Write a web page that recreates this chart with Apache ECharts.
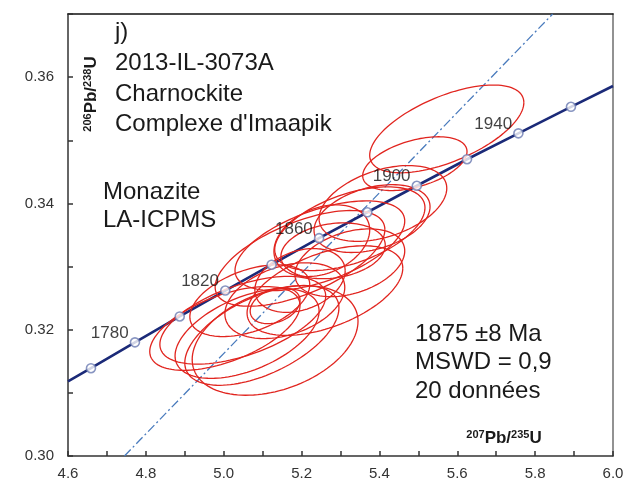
<!DOCTYPE html>
<html><head><meta charset="utf-8">
<script src="https://cdn.jsdelivr.net/npm/echarts@6/dist/echarts.min.js"></script>
<style>html,body{margin:0;padding:0;background:#fff}#c{width:637px;height:486px}</style>
</head><body><div id="c"></div>
<script>
const xTickLabels = ['4.6','4.8','5.0','5.2','5.4','5.6','5.8','6.0'];
const yTickLabels = ['0.30','0.32','0.34','0.36'];
// Concordia markers (20 Ma steps)
const concAges = [1760,1780,1800,1820,1840,1860,1880,1900,1920,1940,1960];
const concX = [4.659,4.772,4.887,5.004,5.123,5.245,5.369,5.496,5.625,5.757,5.892];
const concY = [0.3139,0.3180,0.3221,0.3262,0.3303,0.3345,0.3386,0.3428,0.3470,0.3511,0.3553];
const concLabelAges = [1780,1820,1860,1900,1940];
// concordia curve ends at plot edges
const concStart = [4.60, 0.3118];
const concEnd = [6.00, 0.3586];
// regression (dash-dot) line
const discX = [4.745, 5.845];
const discY = [0.30, 0.37];
// error ellipses: centre, half-extent x, half-extent y, correlation
const ellCx = [5.573,5.491,5.409,5.381,5.324,5.281,5.252,5.196,5.247,5.260,5.132,5.132,5.003,5.049,5.060,5.098,5.157,5.067,5.324,5.196];
const ellCy = [0.3518,0.3463,0.3400,0.3376,0.3360,0.3325,0.3341,0.3313,0.3333,0.3262,0.3238,0.3183,0.3202,0.3215,0.3194,0.3191,0.3246,0.3246,0.3306,0.3278];
const ellSx = [0.198,0.134,0.164,0.149,0.193,0.134,0.123,0.218,0.218,0.200,0.064,0.213,0.193,0.213,0.185,0.198,0.154,0.154,0.141,0.116];
const ellSy = [0.00695,0.00426,0.0060,0.00537,0.00663,0.00442,0.00568,0.00758,0.0071,0.0071,0.00284,0.00868,0.00663,0.00695,0.0071,0.0079,0.0060,0.00568,0.00537,0.00505];
const ellRho = [0.6,0.45,0.4,0.35,0.5,0.2,0.3,0.6,0.55,0.5,0.3,0.35,0.55,0.55,0.5,0.55,0.35,0.45,0.35,0.3];

const FONT = "'Liberation Sans', Arial, sans-serif";
const chart = echarts.init(document.getElementById('c'), null, {renderer:'canvas'});

const concLine = [concStart].concat(concX.map((x,i)=>[x,concY[i]])).concat([concEnd]);
const markers = concX.map((x,i)=>({value:[x,concY[i]], age:concAges[i],
  label:{show: concLabelAges.indexOf(concAges[i])>=0}}));
const ellData = ellCx.map((x,i)=>[x, ellCy[i], ellSx[i], ellSy[i], ellRho[i]]);

const supRich = {
  s:{fontSize:11, fontWeight:'bold', fontFamily:FONT, fill:'#1a1a1a', verticalAlign:'top', lineHeight:18},
  b:{fontSize:17, fontWeight:'bold', fontFamily:FONT, fill:'#1a1a1a', verticalAlign:'bottom', lineHeight:18}
};
const hiddenAxis = (color)=>({show:true, axisLine:{show:true, onZero:false, lineStyle:{color:color, width:1.6}},
  axisTick:{show:false}, axisLabel:{show:false}, splitLine:{show:false}});

const option = {
  animation:false,
  backgroundColor:'#fff',
  grid:{left:68, top:14, right:24, bottom:30},
  xAxis:[{type:'value', min:4.6, max:6.0, interval:0.1, position:'bottom',
    axisLine:{show:true, onZero:false, lineStyle:{color:'#333', width:1.5}},
    axisTick:{show:true, inside:true, length:5, lineStyle:{color:'#333', width:1.5}},
    splitLine:{show:false},
    axisLabel:{fontSize:15, color:'#333', fontFamily:FONT, margin:10,
      formatter:v=>{const s=v.toFixed(1); return xTickLabels.indexOf(s)>=0?s:'';}}
  }, Object.assign({type:'value', min:4.6, max:6.0, position:'top'}, hiddenAxis('#111'))],
  yAxis:[{type:'value', min:0.30, max:0.37, interval:0.01, position:'left',
    axisLine:{show:true, onZero:false, lineStyle:{color:'#333', width:1.5}},
    axisTick:{show:true, inside:true, length:5, lineStyle:{color:'#333', width:1.5}},
    splitLine:{show:false},
    axisLabel:{fontSize:15, color:'#333', fontFamily:FONT, margin:14,
      formatter:v=>{const s=v.toFixed(2); return yTickLabels.indexOf(s)>=0?s:'';}}
  }, Object.assign({type:'value', min:0.30, max:0.37, position:'right'}, hiddenAxis('#777'))],
  series:[
    {type:'line', data:discX.map((x,i)=>[x,discY[i]]), showSymbol:false, symbol:'none', z:2,
      lineStyle:{color:'#4a7bbd', width:1.3, type:[9,3,2,3]}},
    {type:'line', data:concLine, showSymbol:false, symbol:'none', z:3,
      lineStyle:{color:'#1b2a78', width:2.6}},
    {type:'custom', data:ellData, z:4, encode:{x:0,y:1},
      renderItem:(params, api)=>{
        const cx=api.value(0), cy=api.value(1), sx=api.value(2), sy=api.value(3), r=api.value(4);
        const pts=[]; const q=Math.sqrt(1-r*r);
        for(let k=0;k<=120;k++){
          const t=k/120*Math.PI*2;
          pts.push(api.coord([cx+sx*Math.cos(t), cy+sy*(r*Math.cos(t)+q*Math.sin(t))]));
        }
        return {type:'polyline', shape:{points:pts}, style:{fill:null, stroke:'#e1251f', lineWidth:1.3}};
      }},
    {type:'scatter', data:markers, symbol:'circle', symbolSize:9, z:5,
      itemStyle:{color:'#fff', borderColor:'#6a7bb2', borderWidth:1.6},
      label:{position:'left', distance:1, offset:[0,-9], fontSize:17, color:'#111', fontFamily:FONT,
        formatter:p=>String(p.data.age)}}
  ],
  graphic:[
    {type:'text', left:115, top:20, z:10, style:{text:'j)', fontSize:24, fontFamily:FONT, fill:'#1a1a1a'}},
    {type:'text', left:115, top:51, z:10, style:{text:'2013-IL-3073A', fontSize:24, fontFamily:FONT, fill:'#1a1a1a'}},
    {type:'text', left:115, top:82, z:10, style:{text:'Charnockite', fontSize:24, fontFamily:FONT, fill:'#1a1a1a'}},
    {type:'text', left:115, top:112, z:10, style:{text:"Complexe d'Imaapik", fontSize:24, fontFamily:FONT, fill:'#1a1a1a'}},
    {type:'text', left:103, top:180, z:10, style:{text:'Monazite', fontSize:24, fontFamily:FONT, fill:'#1a1a1a'}},
    {type:'text', left:103, top:208, z:10, style:{text:'LA-ICPMS', fontSize:24, fontFamily:FONT, fill:'#1a1a1a'}},
    {type:'text', left:415, top:322, z:10, style:{text:'1875 ±8 Ma', fontSize:24, fontFamily:FONT, fill:'#1a1a1a'}},
    {type:'text', left:415, top:350, z:10, style:{text:'MSWD = 0,9', fontSize:24, fontFamily:FONT, fill:'#1a1a1a'}},
    {type:'text', left:415, top:379, z:10, style:{text:'20 données', fontSize:24, fontFamily:FONT, fill:'#1a1a1a'}},
    {type:'text', x:504, y:438, z:10, style:{text:'{s|207}{b|Pb/}{s|235}{b|U}', rich:supRich, align:'center', verticalAlign:'middle'}},
    {type:'text', x:91, y:94, rotation:Math.PI/2, z:10, style:{text:'{s|206}{b|Pb/}{s|238}{b|U}', rich:supRich, align:'center', verticalAlign:'middle'}}
  ]
};
chart.setOption(option);
</script></body></html>
